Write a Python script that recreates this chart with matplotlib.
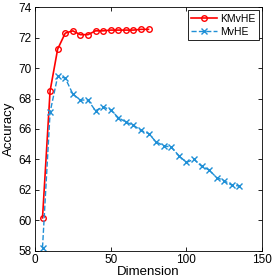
import matplotlib
matplotlib.use("Agg")
import matplotlib.pyplot as plt

plt.rcParams['font.family'] = ['Liberation Sans', 'DejaVu Sans']

dims_k = [5, 10, 15, 20, 25, 30, 35, 40, 45, 50, 55, 60, 65, 70, 75]
acc_k = [60.15, 68.5, 71.25, 72.3, 72.45, 72.2, 72.2, 72.45, 72.45, 72.5, 72.5, 72.5, 72.5, 72.55, 72.55]

dims_m = list(range(5, 140, 5))
acc_m = [58.2, 67.1, 69.45, 69.35, 68.3, 67.9, 67.9, 67.2, 67.45, 67.25, 66.75, 66.45, 66.25,
         65.9, 65.7, 65.15, 64.9, 64.8, 64.25, 63.8, 64.0, 63.55, 63.3, 62.8, 62.6, 62.3, 62.25]

fig = plt.figure(figsize=(2.73, 2.80), dpi=100)
ax = fig.add_axes([0.128, 0.105, 0.832, 0.869])

ax.plot(dims_k, acc_k, '-o', color='#ff0000', lw=1.2, ms=4, mfc='none', mew=1.0, label='KMvHE')
ax.plot(dims_m, acc_m, '--x', color='#1f8fd6', lw=1.0, ms=4, mew=1.0, label='MvHE')

ax.set_xlim(0, 150)
ax.set_ylim(58, 74)
ax.set_xticks([0, 50, 100, 150])
ax.set_yticks(range(58, 75, 2))
ax.tick_params(direction='in', top=True, right=True, labelsize=8.5, length=3, width=0.6, pad=2.5)
for s in ax.spines.values():
    s.set_linewidth(0.6)
ax.set_xlabel('Dimension', fontsize=9.5, labelpad=0)
ax.set_ylabel('Accuracy', fontsize=9.5, labelpad=2)

leg = ax.legend(loc='upper right', fontsize=7.5, fancybox=False, framealpha=1,
                edgecolor='black', handlelength=2.5, borderpad=0.3, labelspacing=0.3,
                handletextpad=0.3, borderaxespad=0.3)
leg.get_frame().set_linewidth(0.6)

fig.savefig('out.png', dpi=100)
